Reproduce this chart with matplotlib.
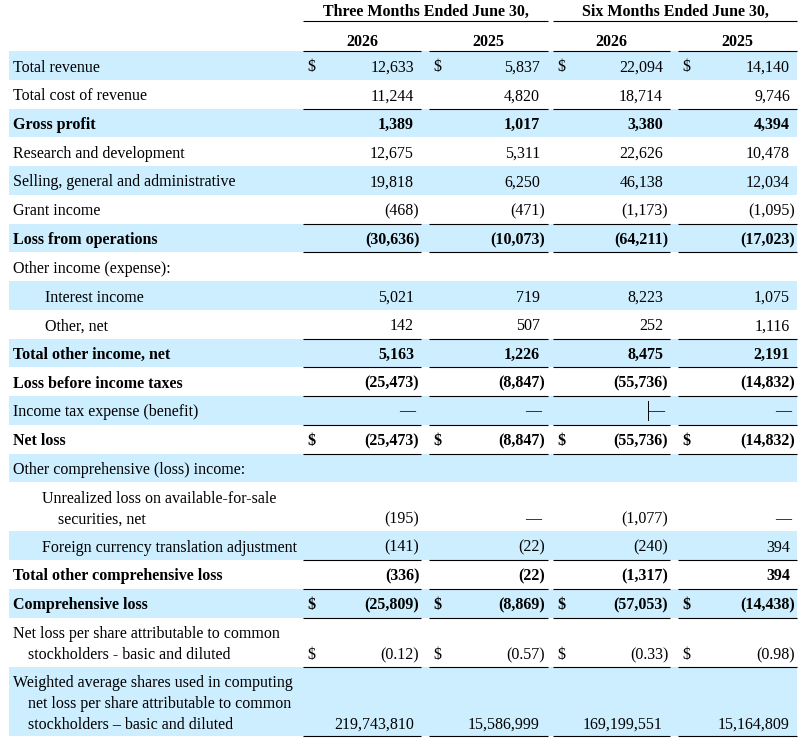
import matplotlib
matplotlib.use("Agg")
import matplotlib.pyplot as plt

# filas del estado de resultados
etiquetas = [
    ["Total revenue"],
    ["Total cost of revenue"],
    ["Gross profit"],
    ["Research and development"],
    ["Selling, general and administrative"],
    ["Grant income"],
    ["Loss from operations"],
    ["Other income (expense):"],
    ["Interest income"],
    ["Other, net"],
    ["Total other income, net"],
    ["Loss before income taxes"],
    ["Income tax expense (benefit)"],
    ["Net loss"],
    ["Other comprehensive (loss) income:"],
    ["Unrealized loss on available-for-sale", "securities, net"],
    ["Foreign currency translation adjustment"],
    ["Total other comprehensive loss"],
    ["Comprehensive loss"],
    ["Net loss per share attributable to common", "stockholders - basic and diluted"],
    ["Weighted average shares used in computing",
     "net loss per share attributable to common",
     "stockholders \u2013 basic and diluted"],
]

tres_meses_2026 = [12633, 11244, 1389, 12675, 19818, -468, -30636, None, 5021, 142, 5163,
                   -25473, 0, -25473, None, -195, -141, -336, -25809, -0.12, 219743810]
tres_meses_2025 = [5837, 4820, 1017, 5311, 6250, -471, -10073, None, 719, 507, 1226,
                   -8847, 0, -8847, None, 0, -22, -22, -8869, -0.57, 15586999]
seis_meses_2026 = [22094, 18714, 3380, 22626, 46138, -1173, -64211, None, 8223, 252, 8475,
                   -55736, 0, -55736, None, -1077, -240, -1317, -57053, -0.33, 169199551]
seis_meses_2025 = [14140, 9746, 4394, 10478, 12034, -1095, -17023, None, 1075, 1116, 2191,
                   -14832, 0, -14832, None, 0, 394, 394, -14438, -0.98, 15164809]

encabezados = ["Three Months Ended June 30,", "Six Months Ended June 30,"]
anios = ["2026", "2025", "2026", "2025"]

filas_negrita = {2, 6, 10, 11, 13, 17, 18}
filas_dolar = {0, 13, 18, 19}
filas_subrayadas = {1, 5, 6, 9, 10, 11, 12, 13, 16, 17, 18, 19, 20}
sangria = {8: [45], 9: [45], 15: [42, 58], 16: [42], 19: [13, 28], 20: [13, 28, 28]}

AZUL = "#CCEEFF"
FUENTE = "Liberation Serif"
TAM = 11.5

col_ini = [303, 429, 553, 678]
col_fin = [421, 548, 670, 797]
col_der = [414, 540, 663, 790]
ancho_parentesis = 5.3


def formato(v):
    if v is None:
        return None
    if v == 0:
        return "\u2014"
    if isinstance(v, float):
        s = "%.2f" % abs(v)
    else:
        s = "{:,}".format(abs(v))
    if v < 0:
        return "(" + s + ")"
    return s


fig = plt.figure(figsize=(8.07, 7.44), dpi=100)
ax = fig.add_axes([0, 0, 1, 1])
ax.set_xlim(0, 807)
ax.set_ylim(744, 0)
ax.axis("off")

# encabezados
for i, txt in enumerate(encabezados):
    x0, x1 = col_ini[2 * i], col_fin[2 * i + 1]
    ax.text((x0 + x1) / 2, 16, txt, ha="center", va="baseline", family=FUENTE,
            fontsize=TAM, fontweight="bold")
    ax.plot([x0, x1], [21, 21], color="black", lw=0.8, solid_capstyle="butt")
for j, txt in enumerate(anios):
    ax.text((col_ini[j] + col_fin[j]) / 2, 46, txt, ha="center", va="baseline",
            family=FUENTE, fontsize=TAM, fontweight="bold")
    ax.plot([col_ini[j], col_fin[j]], [51, 51], color="black", lw=0.8, solid_capstyle="butt")

columnas = [tres_meses_2026, tres_meses_2025, seis_meses_2026, seis_meses_2025]
alto_linea = 21
y = 51.0
for i, lineas in enumerate(etiquetas):
    n = len(lineas)
    alto = 28.75 + (n - 1) * 20.25 if n < 3 else 69
    if i % 2 == 0:
        ax.add_patch(plt.Rectangle((9, y), 797 - 9, alto, color=AZUL, lw=0))
    peso = "bold" if i in filas_negrita else "normal"
    xs = sangria.get(i, [13] * n)
    for k, linea in enumerate(lineas):
        ax.text(xs[k], y + 20.5 + k * alto_linea, linea, ha="left", va="baseline",
                family=FUENTE, fontsize=TAM, fontweight=peso)
    base = y + 20.5 + (n - 1) * alto_linea
    for j, col in enumerate(columnas):
        s = formato(col[i])
        if s is None:
            continue
        if i in filas_dolar:
            ax.text(col_ini[j] + 4, base, "$", ha="left", va="baseline",
                    family=FUENTE, fontsize=TAM, fontweight=peso)
        if s == "\u2014":
            ax.text(col_der[j] + 1, base - 1, s, ha="right", va="baseline",
                    family=FUENTE, fontsize=TAM)
            if i == 12 and j == 2:
                # marca de cursor que aparece en la imagen original
                ax.plot([col_der[j] - 15] * 2, [base - 16, base + 3], color="black", lw=0.7)
            continue
        xr = col_der[j] + (ancho_parentesis if s.endswith(")") else 0)
        ax.text(xr, base, s, ha="right", va="baseline",
                family=FUENTE, fontsize=TAM, fontweight=peso)
    y += alto
    if i in filas_subrayadas:
        for j in range(4):
            ax.plot([col_ini[j], col_fin[j]], [y, y], color="black", lw=0.8,
                    solid_capstyle="butt")

fig.savefig("out.png", dpi=100)
